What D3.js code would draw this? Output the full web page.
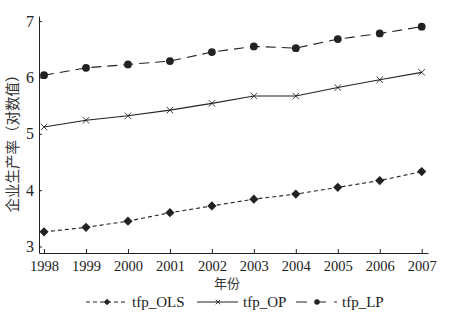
<!DOCTYPE html>
<html>
<head>
<meta charset="utf-8">
<script src="https://cdn.jsdelivr.net/npm/d3@7"></script>
<style>
  html, body { margin: 0; padding: 0; background: #fff; }
  svg { display: block; }
</style>
</head>
<body>
<svg id="chart" width="450" height="323"></svg>
<script>
// Annual data
const years = [1998, 1999, 2000, 2001, 2002, 2003, 2004, 2005, 2006, 2007];
const tfpOLS = [3.26, 3.34, 3.45, 3.60, 3.72, 3.84, 3.93, 4.05, 4.17, 4.33];
const tfpOP  = [5.12, 5.24, 5.32, 5.42, 5.54, 5.67, 5.67, 5.82, 5.96, 6.09];
const tfpLP  = [6.04, 6.17, 6.23, 6.29, 6.45, 6.55, 6.52, 6.68, 6.78, 6.90];
const yTicks = [3, 4, 5, 6, 7];
const seriesNames = ["tfp_OLS", "tfp_OP", "tfp_LP"];

const ink = "#222";
const serif = "'Liberation Serif', 'Times New Roman', serif";
const cjk = "'Noto Sans CJK SC', sans-serif";
const svg = d3.select("#chart");

const x = d3.scaleLinear().domain([1997.88, 2007.15]).range([39, 428]);
const y = d3.scaleLinear().domain([2.885, 7.09]).range([253, 16]);

// Axes
const gx = svg.append("g").attr("transform", "translate(0,253)")
  .call(d3.axisBottom(x).tickValues(years).tickFormat(d3.format("d")).tickSizeInner(-4).tickSizeOuter(0).tickPadding(8));
const gy = svg.append("g").attr("transform", "translate(39,0)")
  .call(d3.axisLeft(y).tickValues(yTicks).tickFormat(d3.format("d")).tickSizeInner(-3).tickSizeOuter(0).tickPadding(5));
[gx, gy].forEach(g => {
  g.attr("font-family", serif);
  g.select(".domain").attr("stroke", ink).attr("stroke-width", 1);
  g.selectAll(".tick line").attr("stroke", ink);
  g.selectAll(".tick text").attr("fill", ink).style("font-family", serif).attr("font-size", 14.5);
});
gy.selectAll(".tick text").attr("font-size", 16);

// Axis titles
svg.append("text")
  .attr("x", 227).attr("y", 288).attr("text-anchor", "middle")
  .attr("font-size", 13).attr("fill", "#333").style("font-family", cjk)
  .text("年份");
svg.append("text")
  .attr("transform", "translate(18,140) rotate(-90)")
  .attr("text-anchor", "middle").attr("font-size", 14.5).attr("fill", "#333")
  .style("font-family", cjk)
  .text("企业生产率（对数值）");

const series = [
  { name: seriesNames[0], values: tfpOLS, dash: "4,3", legendDash: "4,3", marker: "diamond" },
  { name: seriesNames[1], values: tfpOP,  dash: null,  legendDash: null, marker: "cross" },
  { name: seriesNames[2], values: tfpLP,  dash: "10,6", legendDash: "11,8", marker: "circle" }
];

function drawMarker(g, type, cx, cy, s) {
  if (type === "diamond") {
    g.append("path").attr("d", `M${cx},${cy - 4.6 * s}L${cx + 4.6 * s},${cy}L${cx},${cy + 4.6 * s}L${cx - 4.6 * s},${cy}Z`)
      .attr("fill", ink);
  } else if (type === "circle") {
    g.append("circle").attr("cx", cx).attr("cy", cy).attr("r", 3.9 * s).attr("fill", ink);
  } else {
    const r = 3.2 * s;
    g.append("path").attr("d", `M${cx - r},${cy - r}L${cx + r},${cy + r}M${cx - r},${cy + r}L${cx + r},${cy - r}`)
      .attr("stroke", ink).attr("stroke-width", 0.9).attr("fill", "none");
  }
}

const line = d3.line().x((d, i) => x(years[i])).y(d => y(d));
series.forEach(s => {
  svg.append("path").datum(s.values).attr("d", line)
    .attr("fill", "none").attr("stroke", ink).attr("stroke-width", 1.1)
    .attr("stroke-dasharray", s.dash);
  const g = svg.append("g");
  s.values.forEach((v, i) => drawMarker(g, s.marker, x(years[i]), y(v), 1));
});

// Legend
const legendX = [86, 197, 296];
const legendY = 302;
series.forEach((s, i) => {
  const g = svg.append("g").attr("transform", `translate(${legendX[i]},${legendY})`);
  g.append("line").attr("x1", 0).attr("x2", 41).attr("y1", 0).attr("y2", 0)
    .attr("stroke", ink).attr("stroke-width", 1.1).attr("stroke-dasharray", s.legendDash);
  drawMarker(g, s.marker, 21, 0, 0.7);
  g.append("text").attr("x", 46).attr("y", 5)
    .attr("font-size", 15).attr("fill", ink).style("font-family", serif).text(s.name);
});
</script>
</body>
</html>
